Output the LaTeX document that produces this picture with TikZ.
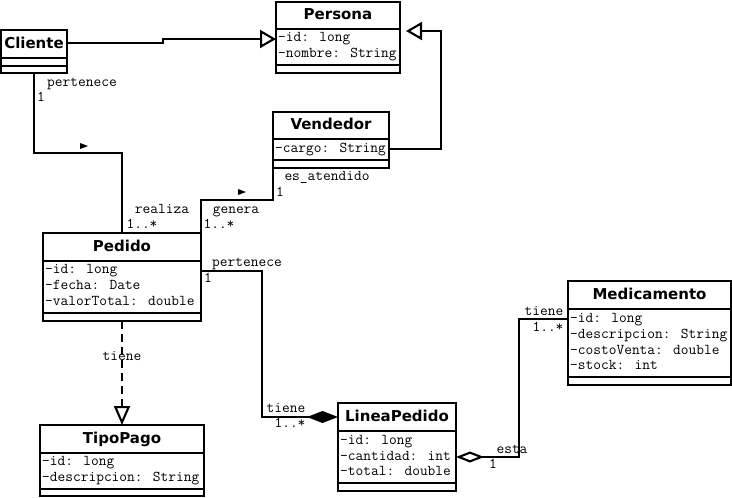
\documentclass[tikz,border=0pt]{standalone}
\usepackage{fontspec}
\setmainfont{DejaVu Sans}
\usetikzlibrary{arrows.meta,calc}
\tikzset{
  classbox/.style={draw, line width=2.1pt, inner sep=0pt, outer sep=0pt, anchor=north west},
  sepline/.style={line width=2.1pt},
  ttl/.style={font=\fontsize{15}{16}\selectfont\bfseries, inner sep=0pt, text height=11pt, text depth=3pt},
  attr/.style={font=\ttfamily\fontsize{15}{16}\selectfont, inner sep=0pt, anchor=west, text height=8.5pt, text depth=2.5pt},
  lbl/.style={font=\ttfamily\fontsize{15}{16}\selectfont, inner sep=0pt, text height=8.5pt, text depth=2.5pt},
  conn/.style={line width=2.1pt, line join=miter},
  gen/.style={-{Triangle[open, length=16pt, width=18pt, fill=white]}},
  real/.style={dash pattern=on 8pt off 5pt, -{Triangle[open, length=19pt, width=16pt, fill=white]}},
  compo/.style={-{Diamond[length=31pt, width=12pt, fill=black]}},
  aggr/.style={-{Diamond[open, length=28pt, width=11pt, fill=white]}},
  navmark/.style={fill=black},
}
\newcommand{\umlclass}[8]{%
  \node[classbox, minimum width={(#4-#2)*1pt}, minimum height={(#7-#3)*1pt}] (#1) at (#2,#3) {};
  \draw[sepline] (#2,#5) -- (#4,#5);
  \draw[sepline] (#2,#6) -- (#4,#6);
  \node[ttl] (#1-t) at ({(#2+#4)/2},{(#3+#5)/2}) {#8};
}
\begin{document}
\begin{tikzpicture}[x=1pt,y=-1pt]
\useasboundingbox (0,0) rectangle (732,498);

% classes
\umlclass{cliente}{1}{30}{67}{58}{66}{73}{Cliente}
\umlclass{persona}{276}{2}{400}{29}{65}{73}{Persona}
\node[attr] (persona-a1) at (278,38) {-id: long};
\node[attr] (persona-a2) at (278,54) {-nombre: String};

\umlclass{vendedor}{273}{112}{389}{139}{160}{168}{Vendedor}
\node[attr] (vendedor-a1) at (275,149) {-cargo: String};

\umlclass{pedido}{43}{233}{201}{261}{313}{321}{Pedido}
\node[attr] (pedido-a1) at (45,270) {-id: long};
\node[attr] (pedido-a2) at (45,286) {-fecha: Date};
\node[attr] (pedido-a3) at (45,302) {-valorTotal: double};

\umlclass{tipopago}{40}{425}{204}{453}{489}{496}{TipoPago}
\node[attr] (tipopago-a1) at (42,462) {-id: long};
\node[attr] (tipopago-a2) at (42,478) {-descripcion: String};

\umlclass{lineapedido}{338}{403}{456}{431}{483}{491}{LineaPedido}
\node[attr] (lineapedido-a1) at (340,441) {-id: long};
\node[attr] (lineapedido-a2) at (340,457) {-cantidad: int};
\node[attr] (lineapedido-a3) at (340,472) {-total: double};

\umlclass{medicamento}{568}{281}{731}{309}{377}{385}{Medicamento}
\node[attr] (medicamento-a1) at (570,319) {-id: long};
\node[attr] (medicamento-a2) at (570,335) {-descripcion: String};
\node[attr] (medicamento-a3) at (570,351) {-costoVenta: double};
\node[attr] (medicamento-a4) at (570,366) {-stock: int};

% generalizations
\draw[conn, gen] (cliente.east |- 0,43) -- (163,43) -- (163,39) -- (persona.west |- 0,39);
\coordinate (pgap) at ($(persona.east |- 0,31)+(6,0)$);
\draw[conn, gen] (vendedor.east |- 0,149) -- (441,149) -- (441,31) -- (pgap);

% Cliente - Pedido
\draw[conn] (cliente.south) -- (cliente.south |- 0,153) -- (pedido.north |- 0,153) -- (pedido.north);
\node[lbl] (l-pert1) at (82,83) {pertenece};
\node[lbl] (l-m1) at (41,98) {1};
\fill[navmark] (80,143) -- (88,146) -- (80,149) -- cycle;
\node[lbl] (l-real) at (162,210) {realiza};
\node[lbl] (l-m2) at (142,225) {1..*};

% Vendedor - Pedido
\draw[conn] (vendedor.south west) -- (vendedor.south west |- 0,200) -- (pedido.north east |- 0,200) -- (pedido.north east);
\node[lbl] (l-esat) at (327,177) {es\_atendido};
\node[lbl] (l-m3) at (280,193) {1};
\fill[navmark] (238,189) -- (246,192) -- (238,195) -- cycle;
\node[lbl] (l-gen) at (236,210) {genera};
\node[lbl] (l-m4) at (219,225) {1..*};

% Pedido - LineaPedido (composition)
\draw[conn, compo] (pedido.east |- 0,271) -- (262,271) -- (262,417) -- (lineapedido.west |- 0,417);
\node[lbl] (l-pert2) at (247,263) {pertenece};
\node[lbl] (l-m5) at (208,279) {1};
\node[lbl] (l-tiene1) at (286,409) {tiene};
\node[lbl] (l-m6) at (290,424) {1..*};

% LineaPedido - Medicamento (aggregation)
\draw[conn, aggr] (medicamento.west |- 0,319) -- (519,319) -- (519,457) -- (lineapedido.east |- 0,457);
\node[lbl] (l-esta) at (512,450) {esta};
\node[lbl] (l-m7) at (493,465) {1};
\node[lbl] (l-tiene2) at (544,312) {tiene};
\node[lbl] (l-m8) at (548,328) {1..*};

% Pedido - TipoPago (realization)
\draw[conn, real] (pedido.south) -- (tipopago.north);
\node[lbl] (l-tiene3) at (122,357) {tiene};
\end{tikzpicture}
\end{document}
